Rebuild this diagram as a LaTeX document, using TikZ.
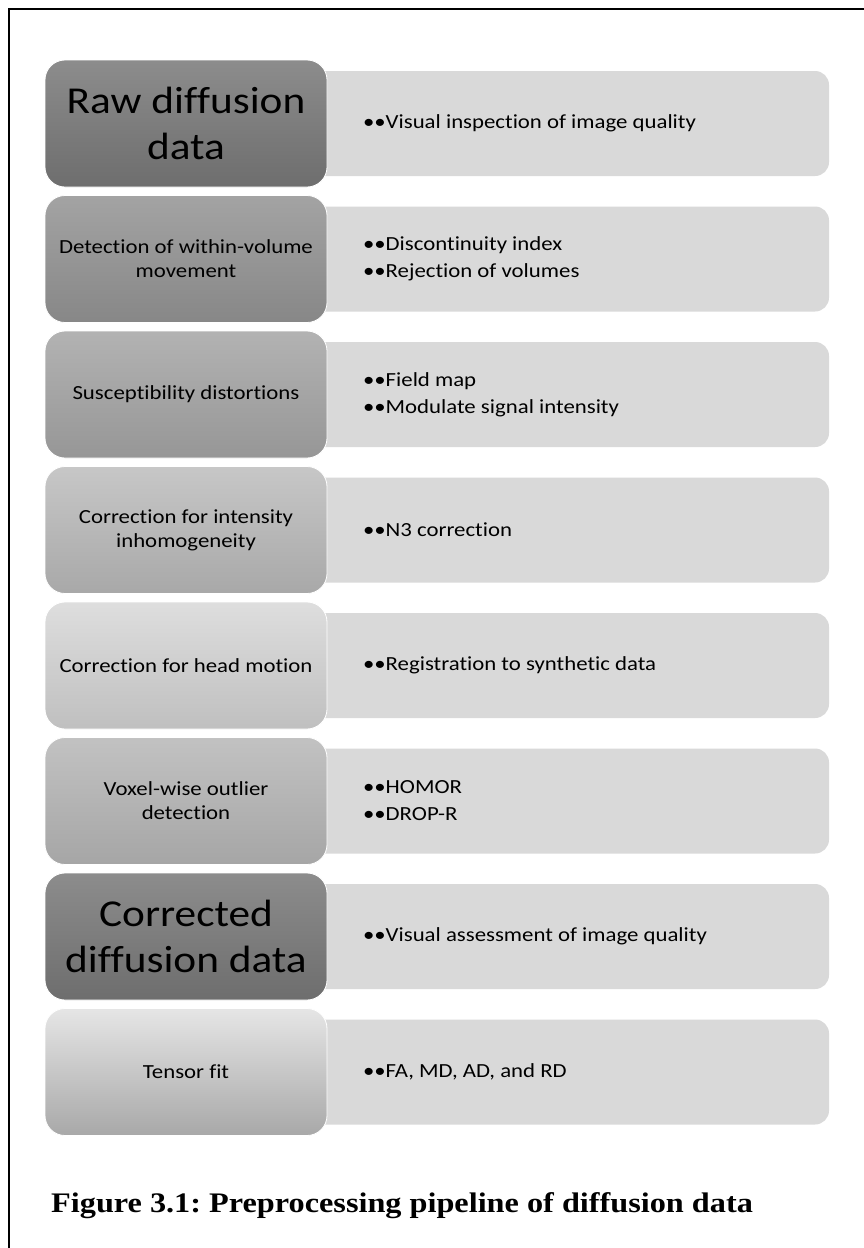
\documentclass[tikz,border=0pt]{standalone}
\usepackage{fontspec}
\setmainfont{Carlito}[FakeStretch=1.14,Ligatures=CommonOff]
\newfontfamily\capfont{Liberation Serif}[FakeStretch=1.14]
\usetikzlibrary{positioning}

\definecolor{detailgray}{HTML}{D9D9D9}

\begin{document}
\frenchspacing
\begin{tikzpicture}[x=1pt,y=-1pt,
    stage/.style={rounded corners=20pt,minimum width=282pt,minimum height=127pt,
        draw=white,line width=0.8pt,inner sep=2pt,align=center,
        font=\fontsize{20}{24}\selectfont},
    bigstage/.style={stage,font=\fontsize{38}{46}\selectfont},
    detail/.style={rounded corners=14pt,fill=detailgray,minimum width=529pt,minimum height=105pt},
    item/.style={anchor=west,align=left,inner sep=0pt,font=\fontsize{20}{27}\selectfont}]
            \useasboundingbox (0,0) rectangle (864,1248);
            \fill[white] (0,0) rectangle (864,1248);
            \draw[line width=2.2pt] (9,1249) -- (9,9) -- (865,9);
            % right-hand boxes first, the stages lie on top
            \node[detail] (d1) at (564.5,123.5) {};
            \node[detail] (d2) at (564.5,259) {};
            \node[detail] (d3) at (564.5,394.5) {};
            \node[detail] (d4) at (564.5,530) {};
            \node[detail] (d5) at (564.5,665.5) {};
            \node[detail] (d6) at (564.5,801) {};
            \node[detail] (d7) at (564.5,936.5) {};
            \node[detail] (d8) at (564.5,1072) {};
            \node[bigstage,top color=black!45,bottom color=black!57] (s1) at (186,123.5) {Raw diffusion\\data};
            \node[stage,top color=black!36,bottom color=black!47] (s2) at (186,259) {Detection of within-volume\\movement};
            \node[stage,top color=black!30,bottom color=black!41] (s3) at (186,394.5) {Susceptibility distortions};
            \node[stage,top color=black!22,bottom color=black!34] (s4) at (186,530) {Correction for intensity\\inhomogeneity};
            \node[stage,top color=black!13,bottom color=black!25] (s5) at (186,665.5) {Correction for head motion};
            \node[stage,top color=black!24,bottom color=black!35] (s6) at (186,801) {Voxel-wise outlier\\detection};
            \node[bigstage,top color=black!45,bottom color=black!57] (s7) at (186,936.5) {Corrected\\diffusion data};
            \node[stage,top color=black!10,bottom color=black!34] (s8) at (186,1072) {Tensor fit};
            \node[item] (t1) at ([xshift=63pt]d1.west) {\textbullet\textbullet Visual inspection of image quality};
            \node[item] (t2) at ([xshift=63pt]d2.west) {\textbullet\textbullet Discontinuity index\\\textbullet\textbullet Rejection of volumes};
            \node[item] (t3) at ([xshift=63pt]d3.west) {\textbullet\textbullet Field map\\\textbullet\textbullet Modulate signal intensity};
            \node[item] (t4) at ([xshift=63pt]d4.west) {\textbullet\textbullet N3 correction};
            \node[item] (t5) at ([xshift=63pt]d5.west) {\textbullet\textbullet Registration to synthetic data};
            \node[item] (t6) at ([xshift=63pt]d6.west) {\textbullet\textbullet HOMOR\\\textbullet\textbullet DROP-R};
            \node[item] (t7) at ([xshift=63pt]d7.west) {\textbullet\textbullet Visual assessment of image quality};
            \node[item] (t8) at ([xshift=63pt]d8.west) {\textbullet\textbullet FA, MD, AD, and RD};
            \node[anchor=base west,inner sep=0pt,font=\capfont\bfseries\fontsize{28.3}{32}\selectfont] (cap) at (51,1212) {Figure 3.1: Preprocessing pipeline of diffusion data};
        \end{tikzpicture}
\end{document}
